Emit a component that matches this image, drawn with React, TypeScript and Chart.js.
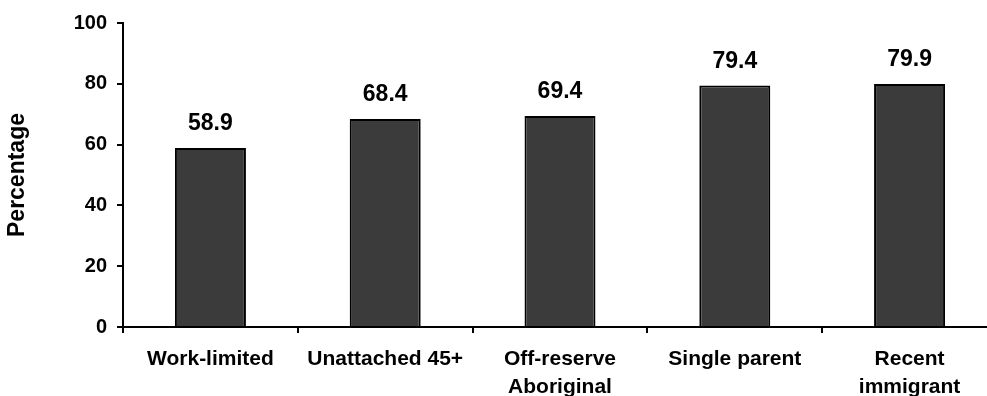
import React, { useEffect, useRef } from "react";
import { Chart, registerables } from "chart.js";

Chart.register(...registerables);

const categories: (string | string[])[] = [
  "Work-limited",
  "Unattached 45+",
  ["Off-reserve", "Aboriginal"],
  "Single parent",
  ["Recent", "immigrant"],
];
const values: number[] = [58.9, 68.4, 69.4, 79.4, 79.9];
const yTicks: number[] = [0, 20, 40, 60, 80, 100];
const yTitle = "Percentage";

const FONT = "'Liberation Sans', Arial, Helvetica, sans-serif";

const valueLabels = {
  id: "valueLabels",
  afterDatasetsDraw(chart: any) {
    const ctx = chart.ctx;
    const meta = chart.getDatasetMeta(0);
    ctx.save();
    ctx.font = `bold 23px ${FONT}`;
    ctx.fillStyle = "#000";
    ctx.textAlign = "center";
    ctx.textBaseline = "alphabetic";
    meta.data.forEach((bar: any, i: number) => {
      ctx.fillText(values[i].toFixed(1), bar.x, bar.y - 18);
    });
    ctx.restore();
  },
};

export default function App() {
  const ref = useRef<HTMLCanvasElement | null>(null);
  useEffect(() => {
    if (!ref.current) return;
    const chart = new Chart(ref.current, {
      type: "bar",
      data: {
        labels: categories,
        datasets: [
          {
            data: values,
            backgroundColor: "#3b3b3b",
            borderColor: "#000",
            borderWidth: 2,
            barPercentage: 0.406,
            categoryPercentage: 1,
          },
        ],
      },
      options: {
        responsive: false,
        animation: false,
        layout: { padding: { top: 23, left: 0, right: 1, bottom: 0 } },
        plugins: {
          legend: { display: false },
          tooltip: { enabled: false },
        },
        scales: {
          x: {
            grid: {
              offset: true,
              drawOnChartArea: false,
              drawTicks: true,
              tickLength: 6,
              color: "#000",
              lineWidth: 2,
            },
            border: { color: "#000", width: 2 },
            ticks: {
              color: "#000",
              font: { family: FONT, size: 21, weight: "bold", lineHeight: 1.33 },
              padding: 12,
              autoSkip: false,
              maxRotation: 0,
              minRotation: 0,
            },
            afterFit: (s: any) => {
              s.height = 87;
            },
          },
          y: {
            min: 0,
            max: 100,
            afterBuildTicks: (s: any) => {
              s.ticks = yTicks.map((v) => ({ value: v }));
            },
            grid: {
              drawOnChartArea: false,
              drawTicks: true,
              tickLength: 6,
              color: "#000",
              lineWidth: 2,
            },
            border: { color: "#000", width: 2 },
            ticks: {
              color: "#000",
              font: { family: FONT, size: 20, weight: "bold" },
              padding: 10,
            },
            title: {
              display: true,
              text: yTitle,
              color: "#000",
              font: { family: FONT, size: 23, weight: "bold", lineHeight: 1 },
              padding: { top: 6, bottom: 0 },
            },
            afterFit: (s: any) => {
              s.width = 123;
              s.paddingTop = 0;
              s.paddingBottom = 0;
            },
          },
        },
      },
      plugins: [valueLabels],
    });
    return () => chart.destroy();
  }, []);
  return (
    <div
      style={{
        position: "fixed",
        top: 0,
        left: 0,
        width: 987,
        height: 396,
        overflow: "hidden",
      }}
    >
      <canvas ref={ref} width={998} height={414} style={{ display: "block" }} />
    </div>
  );
}
